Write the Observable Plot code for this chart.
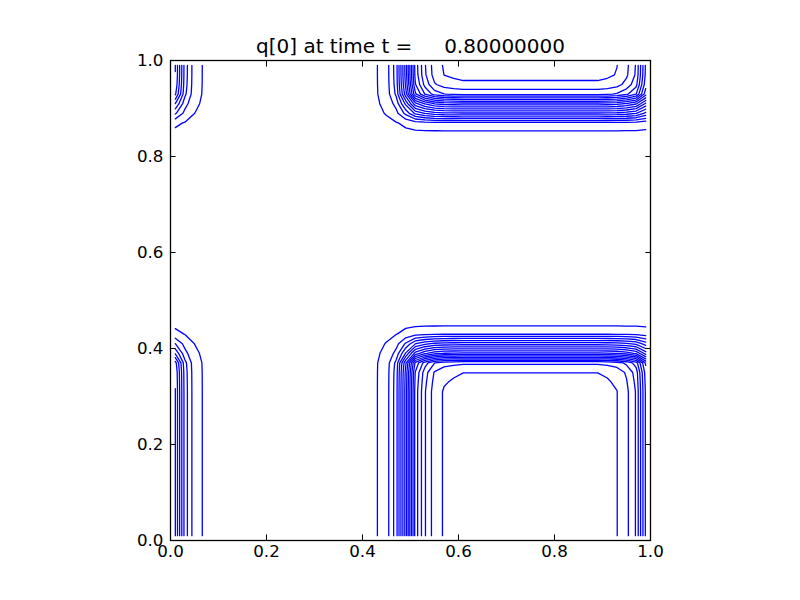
<!DOCTYPE html>
<html>
<head>
<meta charset="utf-8">
<script src="https://cdn.jsdelivr.net/npm/d3@7"></script>
<script src="https://cdn.jsdelivr.net/npm/@observablehq/plot@0.6"></script>
<style>
  html, body { margin: 0; padding: 0; background: #fff; }
</style>
</head>
<body>
<div id="chart"></div>
<script>
// ---- data ----
const titleText = "q[0] at time t =\u00A0\u00A0\u00A0\u00A0\u00A00.80000000";

// contour levels (20 levels from 0.01 to 0.99)
const levels = [0.01, 0.0616, 0.1132, 0.1647, 0.2163, 0.2679, 0.3195, 0.3711, 0.4226, 0.4742,
                0.5258, 0.5774, 0.6289, 0.6805, 0.7321, 0.7837, 0.8353, 0.8868, 0.9384, 0.99];

const xCenters = [0.01,0.03,0.05,0.07,0.09,0.11,0.13,0.15,0.17,0.19,0.21,0.23,0.25,0.27,0.29,0.31,0.33,0.35,0.37,0.39,
                  0.41,0.43,0.45,0.47,0.49,0.51,0.53,0.55,0.57,0.59,0.61,0.63,0.65,0.67,0.69,0.71,0.73,0.75,0.77,0.79,
                  0.81,0.83,0.85,0.87,0.89,0.91,0.93,0.95,0.97,0.99];
const xProfile = [0.378,0.144,0.032,0.005,0.001, 0,0,0,0,0, 0,0,0,0,0, 0,0,0,0,0,
                  0.001,0.0086,0.0386,0.141,0.401,0.711,0.843,0.927,0.958,0.968,
                  0.975,0.975,0.975,0.975,0.975,0.975,0.975,0.975,0.975,0.975,0.975,0.975,0.975,0.975,0.975,
                  0.968,0.954,0.914,0.843,0.63];

// y cell centres 0.01 ... 0.99 (50 cells) and the y-profile of q
const yCenters = xCenters;
const yProfile = [0.985,0.985,0.985,0.985,0.985,0.985,0.985,0.985,0.985,0.985,0.985,0.985,0.985,0.985,0.985,0.985,
                  0.975,0.962,0.90,0.55,0.30,0.06,0.0015,
                  0,0,0,0,0,0,0,0,0,0,0,0,0,0,0,0,0,0,0,
                  0.002,0.05,0.32,0.57,0.87,0.95,0.98,0.985];

const xTicks = [0, 0.2, 0.4, 0.6, 0.8, 1.0];
const xTickLabels = ["0.0", "0.2", "0.4", "0.6", "0.8", "1.0"];
const yTicks = [0, 0.2, 0.4, 0.6, 0.8, 1.0];
const yTickLabels = ["0.0", "0.2", "0.4", "0.6", "0.8", "1.0"];

// ---- build the grid table and contour paths ----
const NX = xCenters.length, NY = yCenters.length;
const grid = new Array(NX * NY);
for (let j = 0; j < NY; j++)
  for (let i = 0; i < NX; i++)
    grid[j * NX + i] = xProfile[i] * yProfile[j];

const cs = d3.contours().size([NX, NY]).thresholds(levels)(grid);
const onBoundary = p => p[0] <= 0 || p[0] >= NX || p[1] <= 0 || p[1] >= NY;
const toX = c => xCenters[0] + (c - 0.5) * (xCenters[1] - xCenters[0]);
const toY = c => yCenters[0] + (c - 0.5) * (yCenters[1] - yCenters[0]);
const segs = [];
let id = 0;
function flush(run, level) {
  if (!run || run.length < 2) return;
  id++;
  for (const p of run) segs.push({x: toX(p[0]), y: toY(p[1]), id, level});
}
for (const c of cs) {
  for (const poly of c.coordinates) {
    for (const ring0 of poly) {
      let pts = ring0.slice();
      const a = pts[0], b = pts[pts.length - 1];
      if (pts.length > 1 && a[0] === b[0] && a[1] === b[1]) pts.pop();
      const n = pts.length;
      const start = pts.findIndex(onBoundary);
      if (start < 0) {
        flush([...pts, pts[0]], c.value);
        continue;
      }
      let run = null;
      for (let k = 1; k <= n; k++) {
        const p = pts[(start + k) % n];
        if (onBoundary(p)) { flush(run, c.value); run = null; }
        else { (run = run || []).push(p); }
      }
      flush(run, c.value);
    }
  }
}

const plot = Plot.plot({
  width: 800,
  height: 600,
  marginLeft: 170,
  marginRight: 150,
  marginTop: 60,
  marginBottom: 60,
  x: {domain: [0, 1]},
  y: {domain: [0, 1]},
  style: {fontFamily: "DejaVu Sans", fontSize: "16.7px", background: "white", color: "black"},
  marks: [
    Plot.line(segs, {x: "x", y: "y", z: "id", stroke: "#0000ff", strokeWidth: 1.3}),
    Plot.frame({stroke: "black", strokeWidth: 1.3}),
    Plot.axisX(xTicks, {anchor: "bottom", tickSize: -5.6, fill: "none", label: null}),
    Plot.axisX(xTicks, {anchor: "top", tickSize: -5.6, fill: "none", label: null}),
    Plot.axisY(yTicks, {anchor: "left", tickSize: -5.6, fill: "none", label: null}),
    Plot.axisY(yTicks, {anchor: "right", tickSize: -5.6, fill: "none", label: null}),
    Plot.axisX(xTicks, {anchor: "bottom", tickSize: 0, tickPadding: 5, label: null,
                        tickFormat: d => xTickLabels[xTicks.indexOf(d)]}),
    Plot.axisY(yTicks, {anchor: "left", tickSize: 0, tickPadding: 7, label: null,
                        tickFormat: d => yTickLabels[yTicks.indexOf(d)]}),
    Plot.text([titleText], {frameAnchor: "top", lineAnchor: "bottom", dy: -7.5, fontSize: 20, fill: "black"})
  ]
});
document.getElementById("chart").appendChild(plot);
</script>
</body>
</html>
